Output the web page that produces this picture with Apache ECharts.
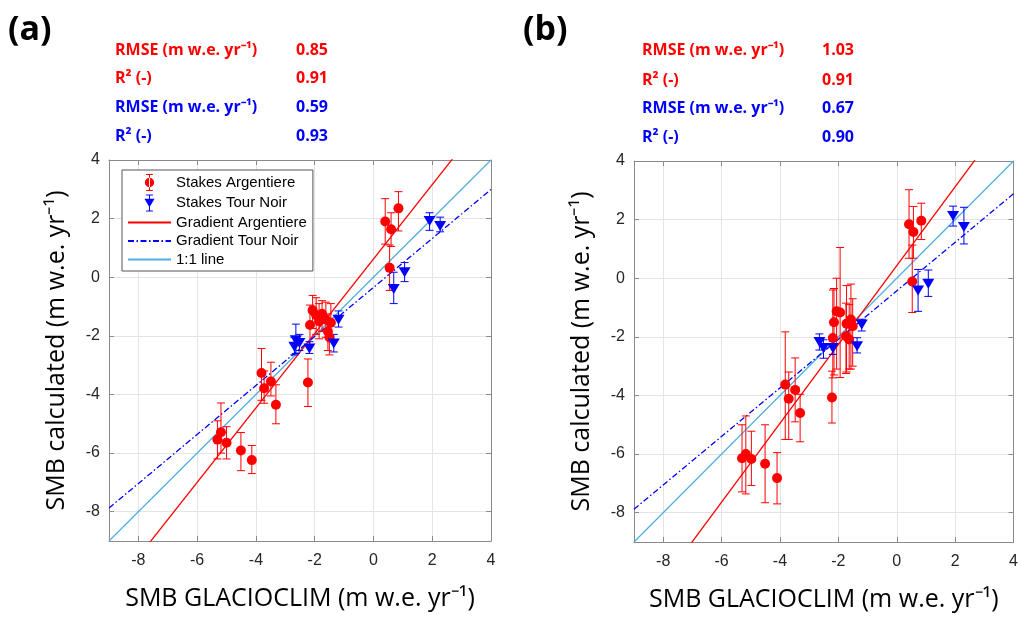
<!DOCTYPE html>
<html>
<head>
<meta charset="utf-8">
<script src="https://cdn.jsdelivr.net/npm/echarts@6/dist/echarts.min.js"></script>
<style>
  html, body { margin: 0; padding: 0; background: #fff; }
  #main { width: 1021px; height: 617px; }
</style>
</head>
<body>
<div id="main"></div>
<script>
// axis ticks / range
const tickVals = [-8, -6, -4, -2, 0, 2, 4];
const axisMin = -9;
const axisMax = 4;

// panel (a) - Argentiere stakes: x, y, error low, error high
const argA_x  = [0.40, 0.60, 0.85, 0.55, -2.16, -2.07, -1.95, -1.85, -1.75, -1.62, -1.55, -1.45, -1.50, -2.23, -3.81, -3.72, -3.49, -3.32, -5.31, -5.19, -5.00, -4.51, -4.14];
const argA_y  = [1.90, 1.64, 2.35, 0.32, -1.63, -1.13, -1.30, -1.50, -1.25, -1.45, -1.85, -1.55, -2.05, -3.59, -3.27, -3.79, -3.56, -4.35, -5.54, -5.29, -5.65, -5.91, -6.24];
const argA_lo = [1.13, 1.05, 1.58, -0.45, -2.30, -1.75, -1.95, -2.10, -1.85, -2.05, -2.50, -2.20, -2.65, -4.41, -4.20, -4.30, -4.05, -5.00, -6.20, -6.00, -6.20, -6.60, -6.70];
const argA_hi = [2.68, 2.20, 2.92, 1.10, -0.95, -0.62, -0.70, -0.90, -0.80, -0.85, -1.25, -0.90, -1.45, -2.79, -2.43, -3.20, -2.90, -3.67, -4.90, -4.29, -5.10, -5.30, -5.74];

// panel (a) - Tour Noir stakes
const tnA_x  = [1.91, 2.27, 1.06, 0.69, -1.19, -1.35, -2.18, -2.64, -2.52, -2.69];
const tnA_y  = [1.92, 1.75, 0.17, -0.40, -1.45, -2.26, -2.43, -2.15, -2.24, -2.37];
const tnA_lo = [1.60, 1.55, -0.15, -0.90, -1.70, -2.55, -2.60, -2.60, -2.50, -2.65];
const tnA_hi = [2.20, 2.05, 0.50, 0.17, -1.15, -1.95, -2.20, -1.60, -1.95, -2.05];

// panel (b) - Argentiere stakes
const argB_x  = [0.42, 0.57, 0.84, 0.53, -2.06, -1.94, -2.15, -1.72, -1.57, -1.51, -1.74, -1.63, -2.19, -2.22, -3.82, -3.70, -3.48, -3.31, -5.30, -5.17, -4.98, -4.51, -4.10];
const argB_y  = [1.84, 1.58, 1.96, -0.11, -1.13, -1.17, -1.50, -1.55, -1.41, -1.64, -1.98, -2.09, -2.04, -4.07, -3.63, -4.11, -3.81, -4.60, -6.14, -6.00, -6.17, -6.33, -6.82];
const argB_lo = [0.68, 0.68, 1.32, -1.17, -3.10, -3.39, -3.30, -3.20, -3.10, -3.00, -3.25, -3.10, -3.40, -4.94, -5.50, -5.50, -4.90, -5.58, -7.29, -7.36, -7.07, -7.66, -7.70];
const argB_hi = [3.02, 2.45, 2.56, 1.13, 0.00, 1.05, -0.35, -0.25, -0.20, -0.70, -0.85, -0.90, -0.40, -3.17, -1.83, -3.20, -2.72, -3.96, -5.00, -4.70, -5.22, -5.00, -5.95];

// panel (b) - Tour Noir stakes
const tnB_x  = [1.93, 2.30, 0.73, 1.08, -1.20, -1.36, -2.19, -2.65, -2.51];
const tnB_y  = [2.12, 1.75, -0.42, -0.19, -1.58, -2.32, -2.38, -2.18, -2.38];
const tnB_lo = [1.78, 1.17, -1.13, -0.62, -1.80, -2.55, -2.60, -2.45, -2.73];
const tnB_hi = [2.46, 2.42, 0.30, 0.28, -1.40, -2.03, -2.15, -1.90, -2.10];

// fitted gradients [Argentiere, Tour Noir]
const slopeA = [1.27, 0.836];
const interA = [0.62, -0.35];
const slopeB = [1.345, 0.828];
const interB = [0.43, -0.43];

// stats text
const statLabels = ['RMSE (m w.e. yr⁻¹)', 'R² (-)', 'RMSE (m w.e. yr⁻¹)', 'R² (-)'];
const statsA = ['0.85', '0.91', '0.59', '0.93'];
const statsB = ['1.03', '0.91', '0.67', '0.90'];

const RED = '#ff0000';
const BLUE = '#0000ff';
const ONE = '#4daee0';
const TRI = 'path://M0,0L12,0L6,10Z';
const ICON_ARG = 'path://M2,0h8v1.2h-8zM5.4,0h1.2v20h-1.2zM2,18.8h8v1.2h-8zM0.5,10a5.5,5.5 0 1,0 11,0a5.5,5.5 0 1,0 -11,0z';
const ICON_TN = 'path://M2,0h8v1.2h-8zM5.4,0h1.2v20h-1.2zM2,18.8h8v1.2h-8zM0,5L12,5L6,15z';

function pts(xs, ys) {
    return xs.map((x, i) => [x, ys[i]]);
}
function bars(xs, lo, hi) {
    return xs.map((x, i) => [x, lo[i], hi[i]]);
}
function fitLine(s, b) {
    return [[axisMin, s * axisMin + b], [axisMax, s * axisMax + b]];
}

function errRender(params, api) {
    var x = api.value(0);
    var p1 = api.coord([x, api.value(2)]);
    var p2 = api.coord([x, api.value(1)]);
    var w = 4;
    var st = { stroke: api.visual('color'), lineWidth: 1, fill: null };
    return {
        type: 'group',
        children: [
            { type: 'line', shape: { x1: p1[0], y1: p1[1], x2: p2[0], y2: p2[1] }, style: st },
            { type: 'line', shape: { x1: p1[0] - w, y1: p1[1], x2: p1[0] + w, y2: p1[1] }, style: st },
            { type: 'line', shape: { x1: p2[0] - w, y1: p2[1], x2: p2[0] + w, y2: p2[1] }, style: st }
        ]
    };
}

const tickLabel = { fontFamily: 'Liberation Sans', fontSize: 16, color: '#262626' };
const nameStyle = { fontFamily: 'Open Sans', fontSize: 25, color: '#000' };
const frame = { show: true, onZero: false, lineStyle: { color: '#8a8a8a' } };

function mainX(gi) {
    return {
        type: 'value', gridIndex: gi, min: axisMin, max: axisMax, position: 'bottom',
        name: 'SMB GLACIOCLIM (m w.e. yr⁻¹)', nameLocation: 'middle', nameGap: 45,
        nameTextStyle: nameStyle,
        axisLine: frame,
        axisTick: { inside: true, length: 5, customValues: tickVals, lineStyle: { color: '#8a8a8a' } },
        axisLabel: Object.assign({ margin: 12, customValues: tickVals }, tickLabel),
        splitLine: { show: true, lineStyle: { color: '#e4e4e4' } }
    };
}
function mainY(gi) {
    return {
        type: 'value', gridIndex: gi, min: axisMin, max: axisMax, position: 'left',
        name: 'SMB calculated (m w.e. yr⁻¹)', nameLocation: 'middle', nameGap: 40, nameRotate: 90,
        nameTextStyle: nameStyle,
        axisLine: frame,
        axisTick: { show: true, inside: true, length: 5, customValues: tickVals, lineStyle: { color: '#8a8a8a' } },
        axisLabel: Object.assign({ margin: 9, customValues: tickVals }, tickLabel),
        splitLine: { show: true, lineStyle: { color: '#e4e4e4' } }
    };
}
function boxAxis(gi, pos) {
    return {
        type: 'value', gridIndex: gi, min: axisMin, max: axisMax, position: pos,
        axisLine: frame,
        axisTick: { show: true, inside: true, length: 5, customValues: tickVals, lineStyle: { color: '#8a8a8a' } },
        axisLabel: { show: false },
        splitLine: { show: false }
    };
}

function panelSeries(gi, names, ax, ay, alo, ahi, tx, ty, tlo, thi, slope, inter) {
    return [
        {
            name: names[4], type: 'line', xAxisIndex: gi * 2, yAxisIndex: gi * 2,
            data: [[axisMin, axisMin], [axisMax, axisMax]], symbol: 'none', silent: true,
            itemStyle: { color: ONE }, lineStyle: { color: ONE, width: 1.2 }, z: 2
        },
        {
            name: names[2], type: 'line', xAxisIndex: gi * 2, yAxisIndex: gi * 2,
            data: fitLine(slope[0], inter[0]), symbol: 'none', clip: true,
            itemStyle: { color: RED }, lineStyle: { color: RED, width: 1.3 }, z: 3
        },
        {
            name: names[3], type: 'line', xAxisIndex: gi * 2, yAxisIndex: gi * 2,
            data: fitLine(slope[1], inter[1]), symbol: 'none', clip: true,
            itemStyle: { color: BLUE }, lineStyle: { color: BLUE, width: 1.3, type: [6, 2.5, 1.5, 2.5] }, z: 3
        },
        {
            name: 'errArg' + gi, type: 'custom', xAxisIndex: gi * 2, yAxisIndex: gi * 2,
            data: bars(ax, alo, ahi), renderItem: errRender, itemStyle: { color: RED },
            encode: { x: 0, y: [1, 2] }, z: 4
        },
        {
            name: 'errTn' + gi, type: 'custom', xAxisIndex: gi * 2, yAxisIndex: gi * 2,
            data: bars(tx, tlo, thi), renderItem: errRender, itemStyle: { color: BLUE },
            encode: { x: 0, y: [1, 2] }, z: 4
        },
        {
            name: names[0], type: 'scatter', xAxisIndex: gi * 2, yAxisIndex: gi * 2,
            data: pts(ax, ay), symbol: 'circle', symbolSize: 10,
            itemStyle: { color: RED, opacity: 1 }, z: 5
        },
        {
            name: names[1], type: 'scatter', xAxisIndex: gi * 2, yAxisIndex: gi * 2,
            data: pts(tx, ty), symbol: TRI, symbolSize: [12, 10],
            itemStyle: { color: BLUE, opacity: 1 }, z: 5
        }
    ];
}

var legendNames = ['Stakes Argentiere', 'Stakes Tour Noir', 'Gradient Argentiere', 'Gradient Tour Noir', '1:1 line'];
var seriesA = panelSeries(0, legendNames, argA_x, argA_y, argA_lo, argA_hi, tnA_x, tnA_y, tnA_lo, tnA_hi, slopeA, interA);
var seriesB = panelSeries(1, ['argB', 'tnB', 'gArgB', 'gTnB', 'oneB'], argB_x, argB_y, argB_lo, argB_hi, tnB_x, tnB_y, tnB_lo, tnB_hi, slopeB, interB);

function statsText(x0, xv, ys, values) {
    var out = [];
    for (let i = 0; i < statLabels.length; i++) {
        var col = i < 2 ? RED : BLUE;
        out.push({ type: 'text', x: x0, y: ys[i], style: { text: statLabels[i], fill: col, font: 'bold 16px "Open Sans"', verticalAlign: 'middle' } });
        out.push({ type: 'text', x: xv, y: ys[i], style: { text: values[i], fill: col, font: 'bold 16px "Open Sans"', verticalAlign: 'middle' } });
    }
    return out;
}

// line entries: keep the line, hide the marker
const noMarker = { opacity: 0 };

var chart = echarts.init(document.getElementById('main'), null, { renderer: 'canvas' });
chart.setOption({
    animation: false,
    backgroundColor: '#fff',
    grid: [
        { left: 109, top: 160, width: 382, height: 381 },
        { left: 634, top: 161, width: 380, height: 382 }
    ],
    xAxis: [mainX(0), boxAxis(0, 'top'), mainX(1), boxAxis(1, 'top')],
    yAxis: [mainY(0), boxAxis(0, 'right'), mainY(1), boxAxis(1, 'right')],
    legend: {
        orient: 'vertical', left: 122, top: 170,
        padding: [4, 6, 4, 5], itemGap: 3.5, itemWidth: 43, itemHeight: 17,
        backgroundColor: '#fff', borderColor: '#555', borderWidth: 1,
        textStyle: { fontFamily: 'Liberation Sans', fontSize: 15, color: '#000' },
        data: [
            { name: legendNames[0], icon: ICON_ARG },
            { name: legendNames[1], icon: ICON_TN },
            { name: legendNames[2], itemStyle: noMarker },
            { name: legendNames[3], itemStyle: noMarker },
            { name: legendNames[4], itemStyle: noMarker }
        ],
        selectedMode: false
    },
    graphic: [
        { type: 'text', x: 8, y: 30, style: { text: '(a)', fill: '#000', font: 'bold 34px "Open Sans"', verticalAlign: 'middle' } },
        { type: 'text', x: 523, y: 30, style: { text: '(b)', fill: '#000', font: 'bold 34px "Open Sans"', verticalAlign: 'middle' } }
    ].concat(statsText(115, 296, [50, 78, 107, 136], statsA), statsText(642, 822, [50, 80, 108, 137], statsB)),
    series: seriesA.concat(seriesB)
});
</script>
</body>
</html>
